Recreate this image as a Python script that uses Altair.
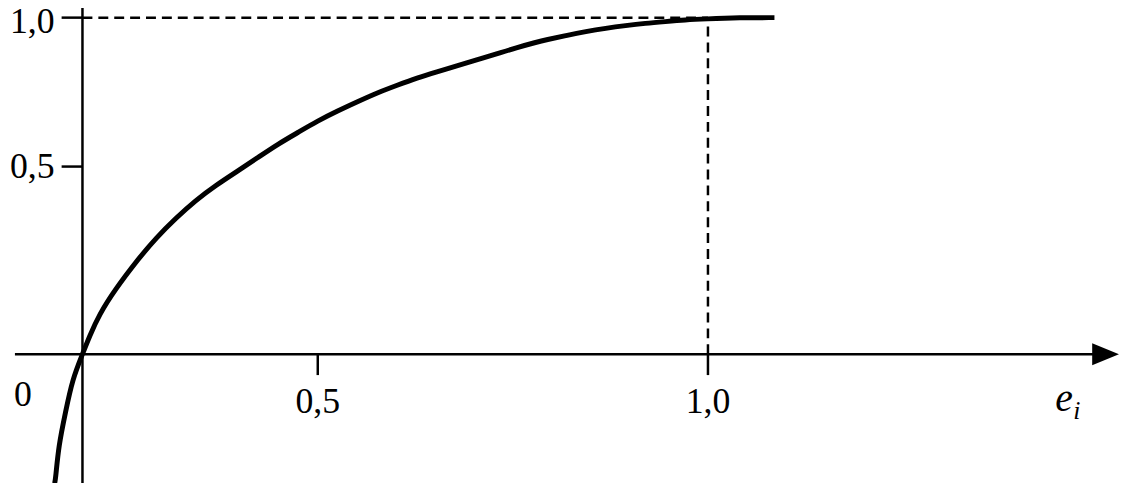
import altair as alt
import pandas as pd

# Curve (x = e_i, y = value)
curve_x = [-0.0591, -0.0570, -0.0506, -0.0359, -0.0211, 0.0, 0.0148, 0.0359, 0.0675, 0.1203,
           0.1561, 0.1983, 0.2405, 0.2827, 0.3312, 0.3734, 0.4156, 0.4578, 0.5, 0.5254,
           0.5509, 0.5763, 0.6018, 0.6272, 0.6527, 0.6781, 0.7036, 0.7290, 0.7545, 0.7799,
           0.7926, 0.8181, 0.8435, 0.8690, 0.8944, 0.9198, 0.9453, 0.9707, 0.9962, 1.0407, 1.0852]
curve_y = [-0.3439, -0.3307, -0.2434, -0.1534, -0.0661, 0.0, 0.0476, 0.1058, 0.1693, 0.2566,
           0.3095, 0.3624, 0.4101, 0.4497, 0.4894, 0.531, 0.5757, 0.6143, 0.6533, 0.6867,
           0.7177, 0.7477, 0.7733, 0.7977, 0.8183, 0.8383, 0.8583, 0.8783, 0.899, 0.9173,
           0.9257, 0.94, 0.9533, 0.9643, 0.9733, 0.981, 0.9867, 0.9923, 0.9957, 1.0, 1.0]

tick_values = [0.5, 1.0]
tick_labels = ["0,5", "1,0"]
ylabel_shift = [1, 4]

# axis extents (data units)
x_axis_from, x_axis_to = -0.1435, 1.499
y_axis_from, y_axis_to = -0.36, 1.08
arrow_x = 1.5095

FONT = "Liberation Serif"
xs = alt.Scale(domain=[0, 0.5, 1], range=[75, 312, 705], zero=False, nice=False)
ys = alt.Scale(domain=[0, 0.5, 1], range=[347, 158, 8], zero=False, nice=False)


def X(f="x"):
    return alt.X(f"{f}:Q", scale=xs, axis=None)


def Y(f="y"):
    return alt.Y(f"{f}:Q", scale=ys, axis=None)


curve = pd.DataFrame({"x": curve_x, "y": curve_y})

axes_df = pd.DataFrame({
    "x": [x_axis_from, 0.0], "x2": [x_axis_to, 0.0],
    "y": [0.0, y_axis_from], "y2": [0.0, y_axis_to],
})
axes = alt.Chart(axes_df).mark_rule(color="black", strokeWidth=2.5).encode(
    x=X(), x2="x2:Q", y=Y(), y2="y2:Q")

dash_df = pd.DataFrame({"x": [0.0, 1.0], "x2": [1.0, 1.0], "y": [1.0, 0.0], "y2": [1.0, 1.0]})
dashes = alt.Chart(dash_df).mark_rule(color="black", strokeWidth=2.5, strokeDash=[10, 6]).encode(
    x=X(), x2="x2:Q", y=Y(), y2="y2:Q")

xt_df = pd.DataFrame({"x": tick_values, "y": [0.0, 0.0], "y2": [-0.0556, -0.0556], "lab": tick_labels})
yt_df = pd.DataFrame({"y": tick_values, "x": [0.0, 0.0], "x2": [-0.0443, -0.0443], "lab": tick_labels})

xticks = alt.Chart(xt_df).mark_rule(color="black", strokeWidth=2.5).encode(
    x=X(), y=Y(), y2="y2:Q")
yticks = alt.Chart(yt_df).mark_rule(color="black", strokeWidth=2.5).encode(
    x=X(), x2="x2:Q", y=Y())

xlabels = alt.Chart(xt_df).mark_text(font=FONT, fontSize=36, align="center", baseline="alphabetic", dy=59).encode(
    x=X(), y=Y(), text="lab:N")
ylabels = [
    alt.Chart(yt_df.iloc[[i]]).mark_text(font=FONT, fontSize=36, align="right", baseline="middle",
                                         dx=-28, dy=ylabel_shift[i]).encode(x=X(), y=Y(), text="lab:N")
    for i in range(len(tick_values))
]

origin = alt.Chart(pd.DataFrame({"x": [0.0], "y": [0.0], "t": ["0"]})).mark_text(
    font=FONT, fontSize=36, align="center", baseline="alphabetic", dx=-60, dy=52).encode(
    x=X(), y=Y(), text="t:N")

e_lab = alt.Chart(pd.DataFrame({"x": [1.445], "y": [0.0], "t": ["e"]})).mark_text(
    font=FONT, fontSize=40, fontStyle="italic", align="left", baseline="alphabetic", dy=57).encode(
    x=X(), y=Y(), text="t:N")
i_lab = alt.Chart(pd.DataFrame({"x": [1.468], "y": [0.0], "t": ["i"]})).mark_text(
    font=FONT, fontSize=26, fontStyle="italic", align="left", baseline="alphabetic", dy=65).encode(
    x=X(), y=Y(), text="t:N")

arrow = alt.Chart(pd.DataFrame({"x": [arrow_x], "y": [0.0]})).mark_point(
    shape="M -1 -0.82 L 1 0 L -1 0.82 Z", filled=True, color="black", opacity=1, size=729).encode(
    x=X(), y=Y())

line = alt.Chart(curve).mark_line(color="black", strokeWidth=5, interpolate="basis", strokeCap="butt").encode(
    x=X(), y=Y())

chart = alt.layer(axes, dashes, xticks, yticks, line, arrow, xlabels, *ylabels, origin, e_lab, i_lab).properties(
    width=1119, height=475, padding=0,
    autosize=alt.AutoSizeParams(type="none"),
    background="white",
).configure_view(stroke=None)

chart.save("out.html", embed_options={"renderer": "svg", "actions": False})
